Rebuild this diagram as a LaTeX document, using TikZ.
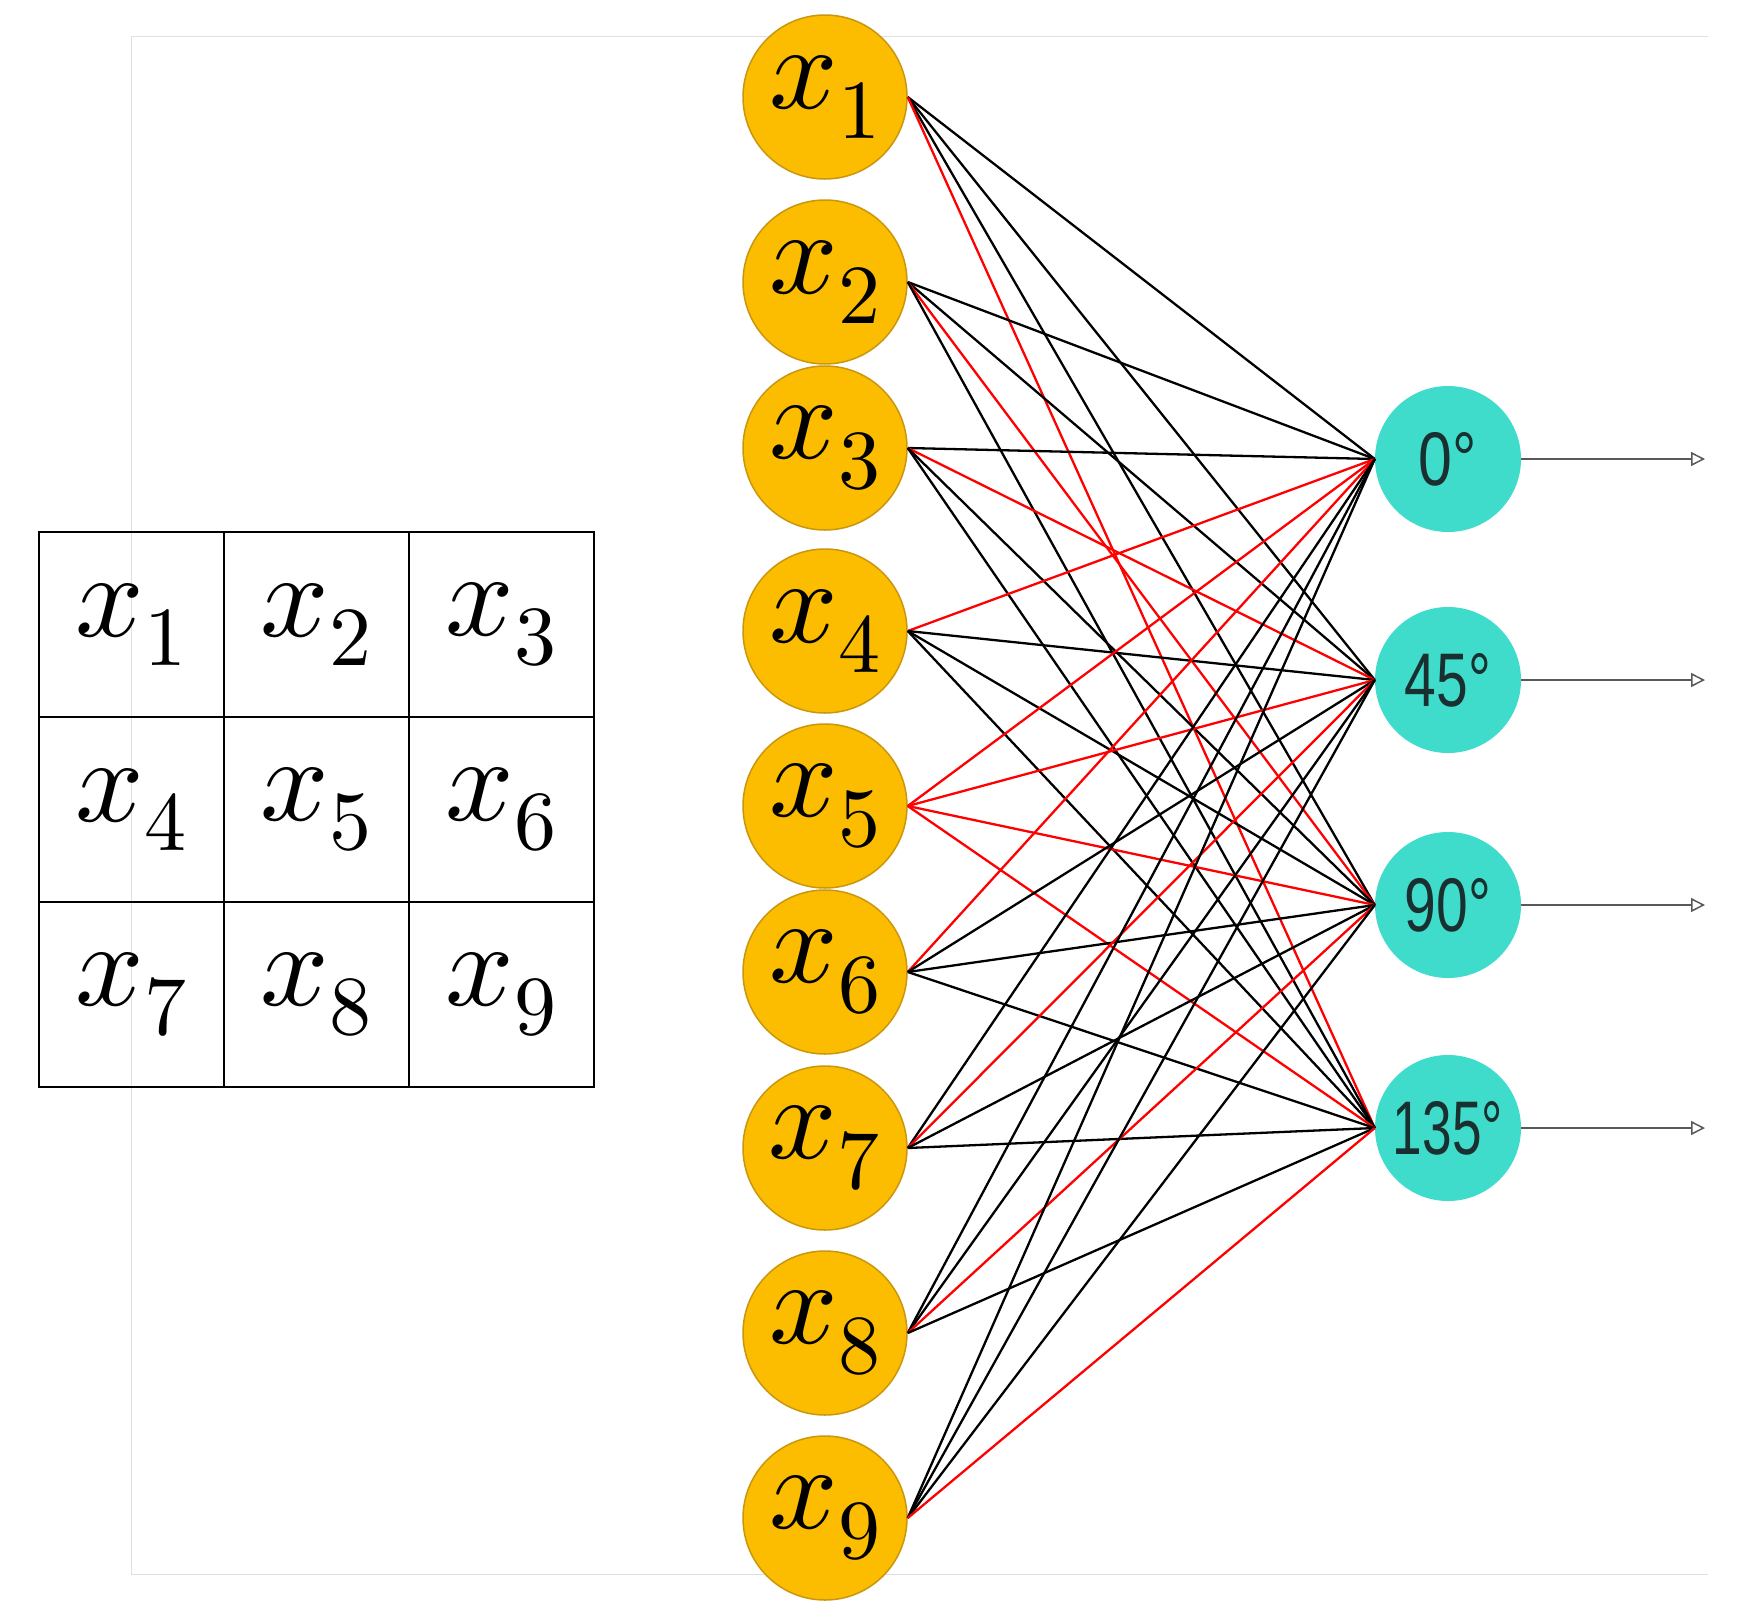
\documentclass[tikz,border=0pt]{standalone}
\usepackage{fontspec}
\usepackage{unicode-math}
\usetikzlibrary{arrows.meta}
\newfontfamily\labfont{Liberation Sans}
\definecolor{inF}{HTML}{FCBC00}
\definecolor{inD}{HTML}{C9970E}
\definecolor{outF}{HTML}{3FDCCB}
\definecolor{labC}{HTML}{1A2F2F}
\begin{document}
\begin{tikzpicture}[x=1pt,y=-1pt,
  inn/.style={circle,draw=inD,line width=1.5pt,fill=inF,minimum size=164pt,inner sep=0pt,font=\fontsize{120}{120}\selectfont},
  outn/.style={circle,fill=outF,minimum size=146pt,inner sep=0pt,text=labC,font=\labfont\fontsize{76}{76}\selectfont},
  bl/.style={black,line width=2.3pt},
  rd/.style={red,line width=2.3pt},
  frame/.style={gray!25,line width=1pt},
  cell/.style={draw=black,line width=2pt,minimum size=185pt,inner sep=0pt,font=\fontsize{120}{120}\selectfont},
  outarr/.style={gray!70!black,line width=1.5pt,-{Triangle[open,length=14pt,width=14pt]}}]
\useasboundingbox (0,0) rectangle (1738,1617);
\draw[frame] (131,1574) -- (131,36) -- (1708,36);
\draw[frame] (131,1574) -- (1708,1574);
% grid
\foreach \i in {1,...,9}{
  \pgfmathtruncatemacro\c{mod(\i-1,3)}
  \pgfmathtruncatemacro\r{div(\i-1,3)}
  \node[cell] (g\i) at ({131.5+185*\c},{624.5+185*\r}) {\raisebox{-6pt}{$x_{\i}$}};
}
% inputs
\foreach \i/\y in {1/97,2/282,3/448,4/631,5/806,6/972,7/1148,8/1333,9/1518}{
  \node[inn] (x\i) at (825,\y) {\raisebox{-8pt}{$x_{\i}$}};
}
% outputs
\node[outn] (o1) at (1448,459) {\scalebox{0.8}[1]{0°}};
\node[outn] (o2) at (1448,680) {\scalebox{0.75}[1]{45°}};
\node[outn] (o3) at (1448,905) {\scalebox{0.75}[1]{90°}};
\node[outn] (o4) at (1448,1128) {\scalebox{0.7}[1]{135°}};
% connections
\foreach \i/\a/\b/\c/\d in {1/bl/bl/bl/rd,2/bl/bl/rd/bl,3/bl/rd/bl/bl,4/rd/bl/bl/bl,5/rd/rd/rd/rd,6/rd/bl/bl/bl,7/bl/rd/bl/bl,8/bl/bl/rd/bl,9/bl/bl/bl/rd}{
  \draw[\a] (x\i.east) -- (o1.west);
  \draw[\b] (x\i.east) -- (o2.west);
  \draw[\c] (x\i.east) -- (o3.west);
  \draw[\d] (x\i.east) -- (o4.west);
}
\foreach \k in {1,2,3,4}{
  \coordinate (e\k) at ([xshift=257pt]o\k.center);
  \draw[outarr] (o\k.east) -- (e\k);
}
\end{tikzpicture}
\end{document}
